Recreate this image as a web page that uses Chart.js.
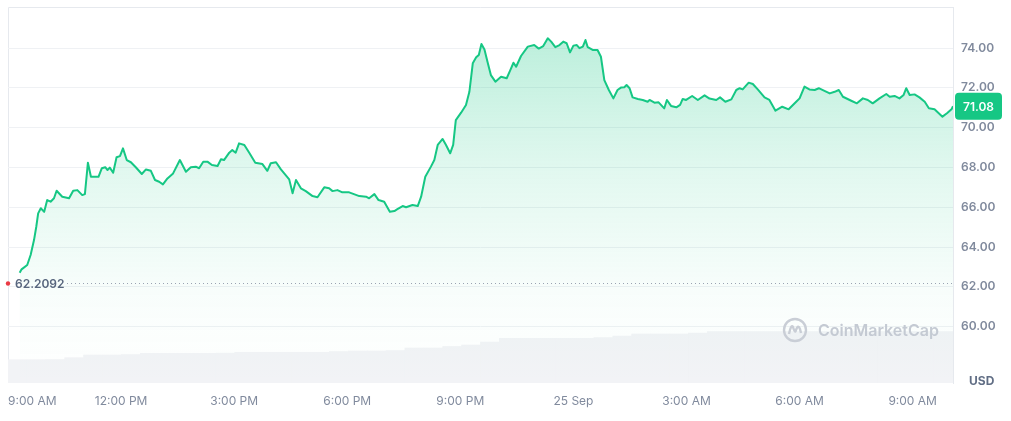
<!DOCTYPE html>
<html>
<head>
<meta charset="utf-8">
<script src="https://cdn.jsdelivr.net/npm/chart.js@4.4.0/dist/chart.umd.min.js"></script>
<style>
  html, body { margin: 0; padding: 0; background: #fff; }
  #wrap { width: 1011px; height: 421px; position: relative; }
</style>
</head>
<body>
<div id="wrap"><canvas id="price-chart"></canvas></div>
<script>
// hours after 9:00 AM (24 Sep) and price in USD
const hours = [
  0.31, 0.36, 0.51, 0.60, 0.69, 0.75, 0.80, 0.87, 0.96, 1.04,
  1.13, 1.22, 1.29, 1.44, 1.62, 1.73, 1.84, 1.97, 2.04, 2.12,
  2.20, 2.28, 2.40, 2.49, 2.58, 2.64, 2.70, 2.79, 2.88, 2.97,
  3.05, 3.15, 3.26, 3.39, 3.55, 3.66, 3.79, 3.90, 4.01, 4.11,
  4.23, 4.38, 4.56, 4.72, 4.85, 4.98, 5.07, 5.18, 5.29, 5.41,
  5.56, 5.65, 5.73, 5.87, 5.95, 6.04, 6.13, 6.27, 6.40, 6.56,
  6.75, 6.88, 6.97, 7.11, 7.24, 7.46, 7.55, 7.64, 7.77, 7.90,
  8.08, 8.21, 8.39, 8.52, 8.61, 8.74, 8.87, 9.05, 9.32, 9.50,
  9.58, 9.72, 9.83, 9.98, 10.13, 10.25, 10.33, 10.47, 10.56, 10.73,
  10.87, 10.96, 11.07, 11.22, 11.31, 11.40, 11.53, 11.62, 11.73, 11.81,
  11.88, 12.02, 12.15, 12.24, 12.33, 12.42, 12.49, 12.56, 12.64, 12.72,
  12.81, 12.93, 13.08, 13.23, 13.32, 13.41, 13.48, 13.61, 13.79, 13.96,
  14.08, 14.20, 14.32, 14.41, 14.52, 14.63, 14.73, 14.82, 14.91, 15.00,
  15.09, 15.16, 15.25, 15.32, 15.38, 15.51, 15.64, 15.73, 15.82, 15.94,
  16.06, 16.17, 16.26, 16.35, 16.41, 16.49, 16.57, 16.71, 16.84, 16.97,
  17.02, 17.15, 17.26, 17.41, 17.48, 17.59, 17.73, 17.83, 17.90, 17.99,
  18.15, 18.30, 18.48, 18.61, 18.79, 18.89, 19.03, 19.19, 19.32, 19.41,
  19.49, 19.65, 19.76, 19.89, 20.07, 20.20, 20.36, 20.54, 20.71, 20.91,
  21.00, 21.13, 21.26, 21.40, 21.51, 21.66, 21.80, 21.93, 22.04, 22.15,
  22.37, 22.52, 22.68, 22.81, 22.94, 23.12, 23.30, 23.39, 23.52, 23.65,
  23.76, 23.83, 23.92, 24.05, 24.18, 24.32, 24.43, 24.58, 24.79, 24.91,
  25.03, 25.07,
];
const prices = [
  62.71, 62.88, 63.10, 63.60, 64.35, 65.02, 65.69, 65.95, 65.77, 66.36,
  66.28, 66.45, 66.83, 66.53, 66.45, 66.83, 66.86, 66.61, 66.66, 68.24,
  67.53, 67.53, 67.53, 67.96, 68.01, 67.87, 67.99, 67.73, 68.51, 68.57,
  68.96, 68.37, 68.26, 68.01, 67.67, 67.90, 67.83, 67.37, 67.28, 67.15,
  67.45, 67.70, 68.37, 67.78, 68.01, 68.04, 67.96, 68.29, 68.29, 68.12,
  68.07, 68.41, 68.37, 68.74, 68.87, 68.74, 69.21, 69.13, 68.74, 68.24,
  68.17, 67.83, 68.21, 68.26, 67.90, 67.40, 66.70, 67.37, 66.95, 66.81,
  66.56, 66.50, 67.00, 66.95, 66.81, 66.86, 66.75, 66.75, 66.56, 66.53,
  66.45, 66.66, 66.36, 66.28, 65.77, 65.81, 65.90, 66.06, 66.00, 66.11,
  66.06, 66.53, 67.53, 68.04, 68.37, 69.13, 69.43, 69.13, 68.71, 69.13,
  70.38, 70.75, 71.14, 71.80, 73.23, 73.53, 73.65, 74.20, 73.93, 73.31,
  72.64, 72.31, 72.56, 72.48, 72.86, 73.26, 73.06, 73.60, 74.07, 74.15,
  73.97, 74.10, 74.49, 74.32, 74.04, 74.15, 74.32, 74.24, 73.78, 74.12,
  74.15, 73.99, 74.07, 74.40, 74.04, 73.90, 73.90, 73.56, 72.39, 71.89,
  71.47, 71.89, 72.01, 72.03, 72.14, 71.98, 71.52, 71.44, 71.39, 71.30,
  71.39, 71.25, 71.27, 70.97, 71.39, 71.09, 71.02, 71.14, 71.44, 71.39,
  71.59, 71.39, 71.62, 71.46, 71.39, 71.52, 71.30, 71.42, 71.89, 71.98,
  71.92, 72.26, 72.19, 71.92, 71.52, 71.39, 70.85, 71.05, 70.92, 71.30,
  71.47, 72.06, 71.92, 71.89, 71.98, 71.85, 71.72, 71.80, 71.89, 71.55,
  71.35, 71.22, 71.47, 71.39, 71.22, 71.47, 71.69, 71.55, 71.59, 71.47,
  71.64, 71.98, 71.64, 71.67, 71.52, 71.30, 70.97, 70.92, 70.55, 70.72,
  70.92, 71.08,
];

// volume bars, one per half hour (relative units)
const volTimes = [
  '09:00', '09:30', '10:00', '10:30', '11:00', '11:30', '12:00', '12:30', '13:00', '13:30',
  '14:00', '14:30', '15:00', '15:30', '16:00', '16:30', '17:00', '17:30', '18:00', '18:30',
  '19:00', '19:30', '20:00', '20:30', '21:00', '21:30', '22:00', '22:30', '23:00', '23:30',
  '00:00', '00:30', '01:00', '01:30', '02:00', '02:30', '03:00', '03:30', '04:00', '04:30',
  '05:00', '05:30', '06:00', '06:30', '07:00', '07:30', '08:00', '08:30', '09:00', '09:30',
];
const volumes = [
  2.33, 2.33, 2.35, 2.53, 2.80, 2.80, 2.85, 2.97, 2.97, 2.97,
  2.97, 2.99, 3.07, 3.07, 3.07, 3.07, 3.07, 3.15, 3.20, 3.20,
  3.25, 3.50, 3.50, 3.65, 3.80, 4.10, 4.47, 4.47, 4.47, 4.47,
  4.47, 4.55, 4.70, 4.90, 4.90, 4.90, 5.00, 5.13, 5.13, 5.13,
  5.13, 5.13, 5.13, 5.13, 5.13, 5.13, 5.13, 5.13, 5.13, 5.13,
];

const tickHours = [0, 3, 6, 9, 12, 15, 18, 21, 24];
const tickLabels = ['9:00 AM', '12:00 PM', '3:00 PM', '6:00 PM', '9:00 PM', '25 Sep', '3:00 AM', '6:00 AM', '9:00 AM'];
const priceTicks = [60, 62, 64, 66, 68, 70, 72, 74];
const openPrice = 62.2092;

const GREEN = '#16c784';
const GREY = '#808a9d';

Chart.defaults.font.family = 'Inter, "Noto Sans", sans-serif';

function fillGradient(context) {
  const { chart } = context;
  const area = chart.chartArea;
  if (!area) {
    return 'rgba(22, 199, 132, 0.2)';
  }
  const g = chart.ctx.createLinearGradient(0, area.top, 0, area.bottom);
  g.addColorStop(0, 'rgba(22, 199, 132, 0.32)');
  g.addColorStop(0.45, 'rgba(22, 199, 132, 0.12)');
  g.addColorStop(0.75, 'rgba(22, 199, 132, 0.03)');
  g.addColorStop(1, 'rgba(22, 199, 132, 0)');
  return g;
}

// top and left edge of the plot frame
const frame = {
  id: 'frame',
  beforeDraw(chart) {
    const { ctx, chartArea: a } = chart;
    ctx.save();
    ctx.strokeStyle = '#e6e9ee';
    ctx.lineWidth = 1;
    ctx.beginPath();
    ctx.moveTo(a.left + 0.5, a.bottom);
    ctx.lineTo(a.left + 0.5, a.top + 0.5);
    ctx.lineTo(a.right, a.top + 0.5);
    ctx.stroke();
    ctx.restore();
  },
};

const watermark = {
  id: 'watermark',
  afterDatasetsDraw(chart) {
    const { ctx, chartArea: a } = chart;
    const cx = a.right - 158;
    const cy = a.bottom - 53;
    ctx.save();
    ctx.strokeStyle = '#c9ced6';
    ctx.lineWidth = 2.4;
    ctx.beginPath();
    ctx.arc(cx, cy, 11, 0, Math.PI * 2);
    ctx.stroke();
    ctx.beginPath();
    ctx.moveTo(cx - 6, cy + 4);
    ctx.quadraticCurveTo(cx - 4, cy - 6, cx - 2, cy - 3);
    ctx.quadraticCurveTo(cx, cy + 4, cx + 1, cy);
    ctx.quadraticCurveTo(cx + 3, cy - 6, cx + 5, cy - 1);
    ctx.lineTo(cx + 6, cy + 3);
    ctx.stroke();
    ctx.fillStyle = '#c4cad3';
    ctx.font = '600 16px Inter';
    ctx.textAlign = 'left';
    ctx.textBaseline = 'middle';
    ctx.fillText('CoinMarketCap', cx + 23, cy + 1);
    ctx.restore();
  },
};

// dotted line at the opening price with its label
const openLine = {
  id: 'openLine',
  afterDatasetsDraw(chart) {
    const { ctx, chartArea: a, scales } = chart;
    const y = Math.round(scales.y.getPixelForValue(openPrice)) + 0.5;
    ctx.save();
    ctx.strokeStyle = '#9aa3b2';
    ctx.lineWidth = 1;
    ctx.setLineDash([1, 3]);
    ctx.beginPath();
    ctx.moveTo(a.left + 59, y);
    ctx.lineTo(a.right, y);
    ctx.stroke();
    ctx.setLineDash([]);
    ctx.fillStyle = '#ea3943';
    ctx.beginPath();
    ctx.arc(a.left, y, 2.2, 0, Math.PI * 2);
    ctx.fill();
    ctx.fillStyle = '#58667e';
    ctx.font = '600 12px Inter';
    ctx.textAlign = 'left';
    ctx.textBaseline = 'middle';
    ctx.fillText(openPrice.toFixed(4), a.left + 7, y + 1);
    ctx.restore();
  },
};

// green tag with the last price and the USD caption on the right axis
const lastTag = {
  id: 'lastTag',
  afterDraw(chart) {
    const { ctx, chartArea: a, scales } = chart;
    const last = prices[prices.length - 1];
    const y = scales.y.getPixelForValue(last);
    const x = a.right + 2;
    const w = 47;
    const h = 27;
    ctx.save();
    ctx.fillStyle = GREEN;
    ctx.beginPath();
    ctx.roundRect(x, y - h / 2, w, h, 4);
    ctx.fill();
    ctx.fillStyle = '#fff';
    ctx.font = '600 12px Inter';
    ctx.textAlign = 'center';
    ctx.textBaseline = 'middle';
    ctx.fillText(last.toFixed(2), x + w / 2, y + 1);
    ctx.fillStyle = '#616e85';
    ctx.font = '700 12px Inter';
    ctx.textAlign = 'left';
    ctx.fillText('USD', a.right + 16, a.bottom - 2);
    ctx.restore();
  },
};

new Chart(document.getElementById('price-chart'), {
  data: {
    datasets: [
      {
        type: 'line',
        label: 'Price',
        data: hours.map((h, i) => ({ x: h, y: prices[i] })),
        borderColor: GREEN,
        borderWidth: 2,
        borderJoinStyle: 'round',
        backgroundColor: fillGradient,
        fill: 'start',
        tension: 0,
        pointRadius: 0,
        xAxisID: 'x',
        yAxisID: 'y',
        order: 1,
      },
      {
        type: 'bar',
        label: 'Volume',
        data: volumes,
        backgroundColor: '#f2f3f6',
        barPercentage: 1,
        categoryPercentage: 1,
        grouped: false,
        xAxisID: 'xv',
        yAxisID: 'y2',
        order: 2,
      },
    ],
  },
  options: {
    responsive: true,
    maintainAspectRatio: false,
    animation: false,
    layout: { padding: { left: 8, top: 7, right: 0, bottom: 0 } },
    datasets: {
      bar: { barPercentage: 1, categoryPercentage: 1 },
    },
    plugins: {
      legend: { display: false },
      tooltip: { enabled: false },
    },
    scales: {
      x: {
        type: 'linear',
        min: 0,
        max: 25.07,
        grid: { display: false, drawTicks: false },
        border: { display: false },
        afterBuildTicks(scale) {
          scale.ticks = tickHours.concat([25.07]).map((v) => ({ value: v }));
        },
        afterFit(scale) {
          scale.height = 38;
          scale.paddingLeft = 0;
          scale.paddingRight = 0;
        },
        ticks: {
          autoSkip: false,
          maxRotation: 0,
          align: 'inner',
          padding: 11,
          color: GREY,
          font: { size: 12, weight: 400 },
          callback(value) {
            const i = tickHours.indexOf(value);
            return i === -1 ? '' : tickLabels[i];
          },
        },
      },
      xv: {
        type: 'category',
        labels: volTimes,
        display: false,
      },
      y: {
        position: 'right',
        min: 57.17,
        max: 76.06,
        afterBuildTicks(scale) {
          scale.ticks = priceTicks.map((v) => ({ value: v }));
        },
        afterFit(scale) {
          scale.width = 58;
          scale.paddingTop = 0;
          scale.paddingBottom = 0;
        },
        grid: { color: '#eff1f4', drawTicks: false },
        border: { display: true, color: '#e6e9ee' },
        ticks: {
          padding: 8,
          color: GREY,
          font: { size: 12, weight: 600 },
          callback: (v) => v.toFixed(2),
        },
      },
      y2: {
        display: false,
        min: 0,
        max: 37.6,
      },
    },
  },
  plugins: [frame, watermark, openLine, lastTag],
});
</script>
</body>
</html>
